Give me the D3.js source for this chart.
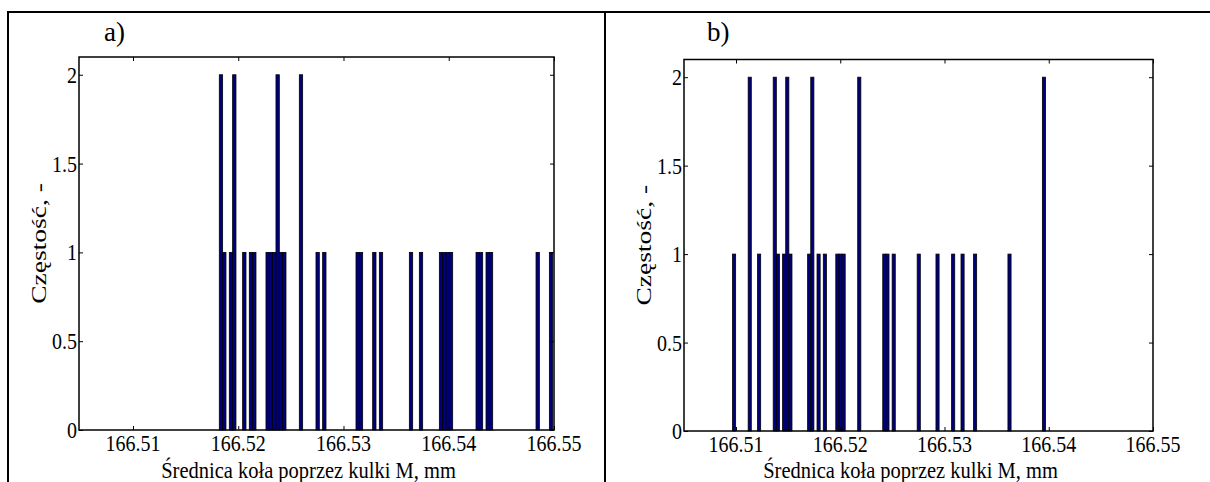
<!DOCTYPE html>
<html>
<head>
<meta charset="utf-8">
<script src="https://cdn.jsdelivr.net/npm/d3@7"></script>
<style>
  html, body { margin: 0; padding: 0; background: #fff; }
  svg { display: block; }
  svg text { font-family: "Liberation Serif", "Times New Roman", serif; fill: #000; }
</style>
</head>
<body>
<svg id="chart" width="1210" height="482"></svg>
<script>
// ---------- data ----------
const panelLabels = ["a)", "b)"];
const xTicks = [166.51, 166.52, 166.53, 166.54, 166.55];
const yTicks = [0, 0.5, 1, 1.5, 2];
const xTitle = "Średnica koła poprzez kulki M, mm";
const yTitle = "Częstość, -";

// panel a: histogram bin centres (mm) and counts
const binCentersA = [166.518358, 166.518675, 166.519309, 166.519625, 166.520576, 166.521209,
  166.521526, 166.522793, 166.523110, 166.523427, 166.523743, 166.524060, 166.524377,
  166.525961, 166.527544, 166.528178, 166.531346, 166.531662, 166.532929, 166.533563,
  166.536414, 166.537364, 166.539265, 166.539581, 166.539898, 166.540215, 166.542749,
  166.543066, 166.543699, 166.544016, 166.548451, 166.549718];
const countsA = [2, 1, 1, 2, 1, 1, 1, 1, 1, 1, 2, 1, 1, 2, 1, 1, 1, 1, 1, 1, 1, 1, 1, 1, 1, 1, 1, 1, 1, 1, 1, 1];
const binWidthA = 0.00031676;

// panel b: histogram bin centres (mm) and counts
const binCentersB = [166.509814, 166.511315, 166.512216, 166.513717, 166.514017, 166.514618,
  166.514918, 166.515218, 166.517020, 166.517320, 166.517921, 166.518521, 166.519722,
  166.520022, 166.520323, 166.521824, 166.524226, 166.524526, 166.525126, 166.527528,
  166.529330, 166.530831, 166.531732, 166.532933, 166.536235, 166.539538];
const countsB = [1, 2, 1, 2, 1, 1, 2, 1, 1, 2, 1, 1, 1, 1, 1, 2, 1, 1, 1, 1, 1, 1, 1, 1, 1, 2];
const binWidthB = 0.00030024;

const xDomainA = [166.50487, 166.55];
const xDomainB = [166.50501, 166.55];
const yDomain = [0, 2.1];

// ---------- layout ----------
const FONT = "'Liberation Serif', 'Times New Roman', serif";
const VSTRETCH = 1.15;   // the original figure is stretched vertically
const svg = d3.select("#chart");

// surrounding table frame
svg.append("path")
  .attr("d", "M8,482 V12 H1212 M605,12 V482")
  .attr("fill", "none").attr("stroke", "#000").attr("stroke-width", 2);

const panels = [
  { label: panelLabels[0], centers: binCentersA, counts: countsA, bw: binWidthA,
    xd: xDomainA, left: 79, right: 554, top: 57, bottom: 430, ylabX: 46, tagX: 104 },
  { label: panelLabels[1], centers: binCentersB, counts: countsB, bw: binWidthB,
    xd: xDomainB, left: 684, right: 1153, top: 59.5, bottom: 431, ylabX: 651, tagX: 707 }
];

panels.forEach(p => {
  const x = d3.scaleLinear().domain(p.xd).range([p.left, p.right]);
  const y = d3.scaleLinear().domain(yDomain).range([p.bottom, p.top]);
  const g = svg.append("g");

  // bars
  const data = p.centers.map((c, i) => ({ c, n: p.counts[i] }));
  g.selectAll("rect.bar").data(data).enter().append("rect")
    .attr("class", "bar")
    .attr("x", d => x(d.c - p.bw / 2))
    .attr("width", d => x(d.c + p.bw / 2) - x(d.c - p.bw / 2))
    .attr("y", d => y(d.n))
    .attr("height", d => y(0) - y(d.n))
    .attr("fill", "#00007d")
    .attr("stroke", "#000")
    .attr("stroke-width", 0.8);

  // axes: inward ticks on all four sides, labels drawn separately
  const ax = g.append("g").attr("transform", `translate(0,${p.bottom})`)
    .call(d3.axisBottom(x).tickValues(xTicks).tickFormat("").tickSizeInner(-4).tickSizeOuter(0));
  const axT = g.append("g").attr("transform", `translate(0,${p.top})`)
    .call(d3.axisTop(x).tickValues(xTicks).tickFormat("").tickSizeInner(-4).tickSizeOuter(0));
  const ay = g.append("g").attr("transform", `translate(${p.left},0)`)
    .call(d3.axisLeft(y).tickValues(yTicks).tickFormat("").tickSizeInner(-4).tickSizeOuter(0));
  const ayR = g.append("g").attr("transform", `translate(${p.right},0)`)
    .call(d3.axisRight(y).tickValues(yTicks).tickFormat("").tickSizeInner(-4).tickSizeOuter(0));
  [ax, axT, ay, ayR].forEach(a => {
    a.select(".domain").remove();
    a.selectAll("line").attr("stroke", "#000").attr("stroke-width", 1);
    a.selectAll("text").remove();
  });

  // x tick labels
  const fmtX = d3.format(".2f");
  g.selectAll("text.xt").data(xTicks).enter().append("text")
    .attr("class", "xt")
    .attr("transform", d => `translate(${x(d)},${p.bottom + 21}) scale(1,${VSTRETCH})`)
    .attr("text-anchor", "middle")
    .style("font-family", FONT).style("font-size", "20px")
    .text(fmtX);

  // y tick labels
  g.selectAll("text.yt").data(yTicks).enter().append("text")
    .attr("class", "yt")
    .attr("transform", d => `translate(${p.left - 2},${y(d) + 8}) scale(1,${VSTRETCH})`)
    .attr("text-anchor", "end")
    .style("font-family", FONT).style("font-size", "20px")
    .text(d => String(d));

  // box
  g.append("rect")
    .attr("x", p.left).attr("y", p.top)
    .attr("width", p.right - p.left).attr("height", p.bottom - p.top)
    .attr("fill", "none").attr("stroke", "#000").attr("stroke-width", 1.5);

  // x title
  g.append("text")
    .attr("transform", `translate(${(p.left + p.right) / 2 - 8},478) scale(1,1.1)`)
    .attr("text-anchor", "middle")
    .style("font-family", FONT).style("font-size", "20.5px")
    .text(xTitle);

  // y title
  g.append("text")
    .attr("transform", `translate(${p.ylabX},${(p.top + p.bottom) / 2}) rotate(-90) scale(1.25,1)`)
    .attr("text-anchor", "middle")
    .style("font-family", FONT).style("font-size", "22px")
    .text(yTitle);

  // panel tag
  g.append("text")
    .attr("x", p.tagX).attr("y", 41)
    .style("font-family", FONT).style("font-size", "27px")
    .text(p.label);
});
</script>
</body>
</html>
